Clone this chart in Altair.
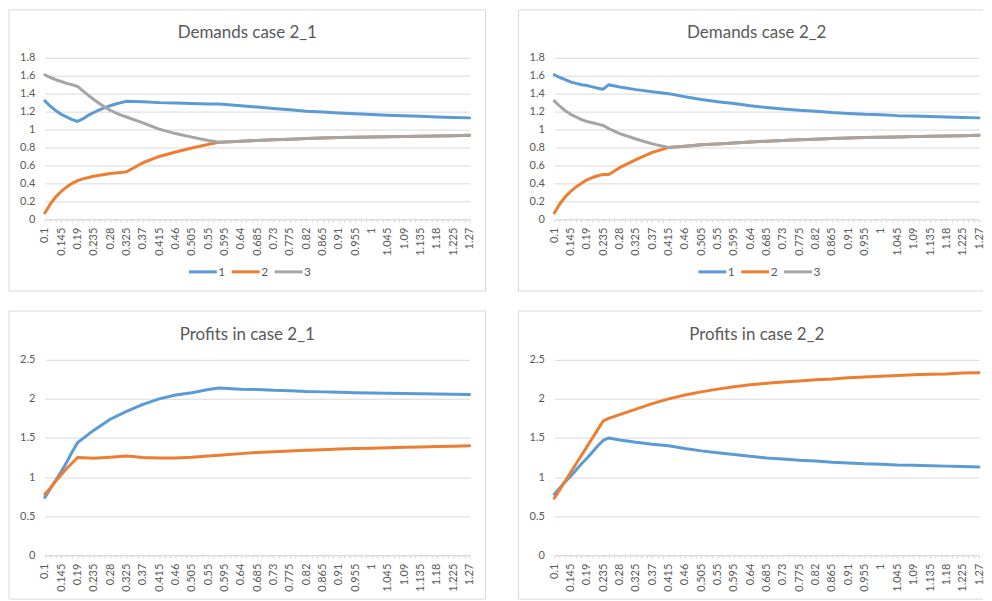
import altair as alt
import pandas as pd

# ---------------- data ----------------
SERIES = ["1", "2", "3"]
COLORS = ["#5B9BD5", "#ED7D31", "#A5A5A5"]

X_LABELS = ["0.1", "0.145", "0.19", "0.235", "0.28", "0.325", "0.37", "0.415", "0.46",
            "0.505", "0.55", "0.595", "0.64", "0.685", "0.73", "0.775", "0.82", "0.865",
            "0.91", "0.955", "1", "1.045", "1.09", "1.135", "1.18", "1.225", "1.27"]

# Demands case 2_1
X_D21 = [0.1, 0.115, 0.13, 0.145, 0.16, 0.175, 0.19, 0.205, 0.22, 0.235, 0.25, 0.265, 0.28,
         0.295, 0.31, 0.325, 0.37, 0.415, 0.46, 0.505, 0.55, 0.58, 0.64, 0.685, 0.73, 0.775,
         0.82, 0.865, 0.91, 0.955, 1.0, 1.045, 1.09, 1.135, 1.18, 1.225, 1.27]
D21_1 = [1.32, 1.26, 1.21, 1.17, 1.14, 1.11, 1.09, 1.12, 1.16, 1.19, 1.22, 1.245, 1.265,
         1.285, 1.30, 1.315, 1.31, 1.30, 1.295, 1.29, 1.285, 1.285, 1.265, 1.25, 1.235, 1.22,
         1.205, 1.195, 1.185, 1.175, 1.167, 1.16, 1.153, 1.147, 1.14, 1.135, 1.13]
D21_2 = [0.07, 0.17, 0.25, 0.31, 0.36, 0.40, 0.43, 0.45, 0.465, 0.48, 0.49, 0.50, 0.51,
         0.515, 0.52, 0.53, 0.63, 0.70, 0.75, 0.795, 0.835, 0.858, 0.87, 0.878, 0.885, 0.892,
         0.90, 0.905, 0.91, 0.913, 0.916, 0.92, 0.922, 0.925, 0.928, 0.932, 0.935]
D21_3 = [1.61, 1.58, 1.555, 1.535, 1.515, 1.50, 1.48, 1.43, 1.38, 1.335, 1.29, 1.25, 1.215,
         1.185, 1.16, 1.14, 1.075, 1.005, 0.955, 0.915, 0.878, 0.858, 0.87, 0.878, 0.885, 0.892,
         0.90, 0.905, 0.91, 0.913, 0.916, 0.92, 0.922, 0.925, 0.928, 0.932, 0.935]

# Demands case 2_2
X_D22 = [0.1, 0.115, 0.13, 0.145, 0.16, 0.175, 0.19, 0.205, 0.22, 0.235, 0.25, 0.28, 0.325,
         0.37, 0.415, 0.46, 0.505, 0.55, 0.595, 0.64, 0.685, 0.73, 0.775, 0.82, 0.865, 0.91,
         0.955, 1.0, 1.045, 1.09, 1.135, 1.18, 1.225, 1.27]
D22_1 = [1.61, 1.58, 1.555, 1.53, 1.515, 1.50, 1.49, 1.475, 1.46, 1.45, 1.50, 1.475, 1.445,
         1.42, 1.40, 1.365, 1.335, 1.31, 1.29, 1.265, 1.245, 1.23, 1.215, 1.205, 1.19, 1.18,
         1.17, 1.165, 1.155, 1.15, 1.145, 1.14, 1.135, 1.13]
D22_2 = [0.07, 0.17, 0.25, 0.31, 0.36, 0.40, 0.44, 0.465, 0.485, 0.50, 0.50, 0.575, 0.665,
         0.745, 0.80, 0.815, 0.83, 0.84, 0.85, 0.86, 0.87, 0.878, 0.885, 0.893, 0.90, 0.905,
         0.91, 0.914, 0.918, 0.921, 0.925, 0.928, 0.932, 0.935]
D22_3 = [1.32, 1.26, 1.21, 1.17, 1.14, 1.11, 1.09, 1.075, 1.06, 1.045, 1.01, 0.955, 0.895,
         0.84, 0.80, 0.815, 0.83, 0.84, 0.85, 0.86, 0.87, 0.878, 0.885, 0.893, 0.90, 0.905,
         0.91, 0.914, 0.918, 0.921, 0.925, 0.928, 0.932, 0.935]

# Profits in case 2_1
X_P21 = [0.1, 0.115, 0.13, 0.145, 0.16, 0.175, 0.19, 0.235, 0.28, 0.325, 0.37, 0.415, 0.46,
         0.505, 0.55, 0.58, 0.64, 0.685, 0.73, 0.775, 0.82, 0.865, 0.91, 0.955, 1.0, 1.045,
         1.09, 1.135, 1.18, 1.225, 1.27]
P21_1 = [0.74, 0.85, 0.96, 1.07, 1.19, 1.32, 1.44, 1.60, 1.74, 1.84, 1.93, 2.00, 2.05,
         2.08, 2.12, 2.14, 2.125, 2.12, 2.11, 2.105, 2.095, 2.09, 2.085, 2.08, 2.075, 2.072,
         2.07, 2.065, 2.062, 2.06, 2.055]
P21_2 = [0.78, 0.86, 0.95, 1.03, 1.11, 1.18, 1.25, 1.24, 1.255, 1.27, 1.25, 1.245, 1.245,
         1.255, 1.27, 1.28, 1.30, 1.315, 1.325, 1.335, 1.343, 1.35, 1.36, 1.365, 1.37, 1.375,
         1.38, 1.385, 1.39, 1.395, 1.40]

# Profits in case 2_2
X_P22 = X_D22
P22_1 = [0.78, 0.86, 0.94, 1.01, 1.09, 1.17, 1.24, 1.32, 1.40, 1.47, 1.50, 1.475, 1.445,
         1.42, 1.40, 1.365, 1.335, 1.31, 1.29, 1.265, 1.245, 1.23, 1.215, 1.205, 1.19, 1.18,
         1.17, 1.165, 1.155, 1.15, 1.145, 1.14, 1.135, 1.13]
P22_2 = [0.73, 0.84, 0.95, 1.06, 1.17, 1.28, 1.39, 1.50, 1.61, 1.72, 1.75, 1.80, 1.87,
         1.94, 2.00, 2.05, 2.09, 2.125, 2.155, 2.18, 2.20, 2.215, 2.23, 2.245, 2.255, 2.27,
         2.28, 2.29, 2.30, 2.31, 2.315, 2.32, 2.33, 2.335]

# ---------------- style ----------------
FONT = "Lato"
TXT = "#595959"
GRID = "#D9D9D9"
W = 426
H_TOP = 162
H_BOT = 196
ALL_CATS = [round(0.1 + 0.015 * i, 3) for i in range(79)]
LABEL_EXPR = ("indexof([" + ",".join("'%s'" % s for s in X_LABELS) +
              "], format(datum.value, '~g')) >= 0 ? format(datum.value, '~g') : ''")

one = pd.DataFrame({"k": [0]})


def make_df(xs, series):
    rows = []
    for name, vals in series:
        for x, v in zip(xs, vals):
            rows.append({"x": x, "v": v, "s": name})
    return pd.DataFrame(rows)


def panel(title, xs, series, ymax, yticks, H, show_legend, right):
    df = make_df(xs, series)
    names = [n for n, _ in series]
    if show_legend:
        legend = alt.Legend(orient="none", legendX=143, legendY=H + 37,
                            direction="horizontal", title=None, symbolType="stroke",
                            symbolSize=784, symbolStrokeWidth=3, labelFont=FONT,
                            labelFontSize=12, labelColor=TXT, labelOffset=0,
                            columnPadding=0)
    else:
        legend = None
    lines = alt.Chart(df).mark_line(strokeWidth=3, strokeJoin="round", strokeCap="round").encode(
        x=alt.X("x:Q", scale=alt.Scale(domain=[0.1, 1.27], nice=False, zero=False),
                axis=alt.Axis(values=ALL_CATS, labelExpr=LABEL_EXPR, labelAngle=270,
                              labelOverlap=False, labelFlush=False, grid=False,
                              domainColor=GRID, tickColor=GRID, tickSize=3,
                              labelPadding=5, labelFont=FONT, labelFontSize=11,
                              labelColor=TXT, title=None)),
        y=alt.Y("v:Q", scale=alt.Scale(domain=[0, ymax], nice=False, zero=True),
                axis=alt.Axis(values=yticks, format="~g", domain=False, ticks=False,
                              gridColor=GRID, labelPadding=10, labelFont=FONT,
                              labelFontSize=11, labelColor=TXT, title=None)),
        color=alt.Color("s:N", scale=alt.Scale(domain=names, range=COLORS[:len(names)]),
                        legend=legend),
    )
    top = -48 if H == H_TOP else -49
    bottom = H + 72 if H == H_TOP else H + 44
    if not right:
        border = alt.Chart(one).mark_rect(fillOpacity=0, stroke=GRID, strokeWidth=1).encode(
            x=alt.value(-36), x2=alt.value(W + 16), y=alt.value(top), y2=alt.value(bottom))
        borders = [border]
    else:
        b1 = alt.Chart(one).mark_rule(stroke=GRID, strokeWidth=1).encode(
            x=alt.value(-36), x2=alt.value(W + 4), y=alt.value(top))
        b2 = alt.Chart(one).mark_rule(stroke=GRID, strokeWidth=1).encode(
            x=alt.value(-36), y=alt.value(top), y2=alt.value(bottom))
        b3 = alt.Chart(one).mark_rule(stroke=GRID, strokeWidth=1).encode(
            x=alt.value(-36), x2=alt.value(W + 4), y=alt.value(bottom))
        borders = [b1, b2, b3]
    cx = (W + 16 - 36) / 2
    ttl = alt.Chart(one).mark_text(text=title, font=FONT, fontSize=17, color=TXT,
                                   align="center", baseline="alphabetic").encode(
        x=alt.value(cx), y=alt.value(-20))
    return alt.layer(*borders, ttl, lines).properties(width=W, height=H)


YT_D = [0, 0.2, 0.4, 0.6, 0.8, 1, 1.2, 1.4, 1.6, 1.8]
YT_P = [0, 0.5, 1, 1.5, 2, 2.5]

p1 = panel("Demands case 2_1", X_D21, [("1", D21_1), ("2", D21_2), ("3", D21_3)],
           1.8, YT_D, H_TOP, True, False)
p2 = panel("Demands case 2_2", X_D22, [("1", D22_1), ("2", D22_2), ("3", D22_3)],
           1.8, YT_D, H_TOP, True, True)
p3 = panel("Profits in case 2_1", X_P21, [("1", P21_1), ("2", P21_2)],
           2.5, YT_P, H_BOT, False, False)
p4 = panel("Profits in case 2_2", X_P22, [("1", P22_1), ("2", P22_2)],
           2.5, YT_P, H_BOT, False, True)

row1 = alt.hconcat(p1, p2, spacing=31).resolve_scale(color="independent").resolve_legend(color="independent")
row2 = alt.hconcat(p3, p4, spacing=31).resolve_scale(color="independent").resolve_legend(color="independent")

chart = alt.vconcat(row1, row2, spacing=18).resolve_scale(
    color="independent").resolve_legend(color="independent").properties(
    padding=0, background="white").configure_view(stroke=None)

chart.save("out.html", embed_options={"renderer": "svg", "actions": False})
